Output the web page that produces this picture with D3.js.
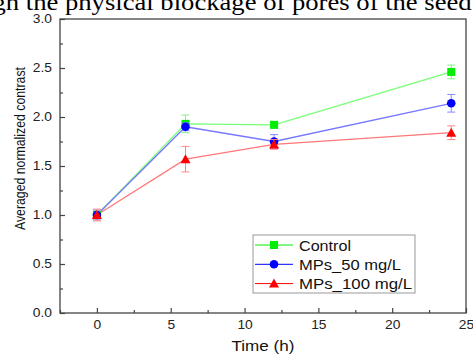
<!DOCTYPE html>
<html><head><meta charset="utf-8">
<script src="https://cdn.jsdelivr.net/npm/d3@7"></script>
<style>body{margin:0;background:#fff;}svg{display:block;}</style>
</head><body>
<svg id="c" width="473" height="354"></svg>
<script>
const times = [0, 6, 12, 24];
const seriesNames = ["Control", "MPs_50 mg/L", "MPs_100 mg/L"];
const controlVals = [1.00, 1.93, 1.92, 2.46];
const controlErr = [0.04, 0.09, 0.03, 0.07];
const mp50Vals = [1.00, 1.90, 1.75, 2.14];
const mp50Err = [0.05, 0.04, 0.07, 0.09];
const mp100Vals = [1.00, 1.57, 1.72, 1.84];
const mp100Err = [0.06, 0.13, 0.05, 0.07];
const xTicks = [0, 5, 10, 15, 20, 25];
const yTicks = [0.0, 0.5, 1.0, 1.5, 2.0, 2.5, 3.0];

const svg = d3.select("#c");
const L = 60, R = 466, T = 19, B = 313;
const x = d3.scaleLinear().domain([-2.5, 25]).range([L, R]);
const y = d3.scaleLinear().domain([0, 3]).range([B, T]);
const font = "Liberation Sans, Arial, sans-serif";

// top clipped paper text (horizontally stretched like the reference)
const pre = "gh the ", full = "gh the physical blockage of pores of the seed";
const ptxt = svg.append("text").attr("x", 0).attr("y", 0)
  .attr("font-family", "Liberation Serif, Times New Roman, serif").attr("font-size", 23)
  .attr("fill", "#000").text(full);
const fullLen = ptxt.node().getComputedTextLength();
const preLen = ptxt.node().getSubStringLength(0, pre.length);
const sx = 407 / (fullLen - preLen);
const x0 = 65 - preLen * sx;
ptxt.attr("transform", `translate(${x0},10) scale(${sx},1)`);

const series = [
  {name: seriesNames[0], v: controlVals, e: controlErr, c: "#00ee00", lc: "#77ff77", ec: "#88ee88", m: "square"},
  {name: seriesNames[1], v: mp50Vals, e: mp50Err, c: "#0000ff", lc: "#7777ff", ec: "#8888ff", m: "circle"},
  {name: seriesNames[2], v: mp100Vals, e: mp100Err, c: "#ff0000", lc: "#ff7777", ec: "#ff8888", m: "triangle"}
];

function marker(g, type, cx, cy, color) {
  if (type === "square") g.append("rect").attr("x", cx-4).attr("y", cy-4).attr("width", 8).attr("height", 8).attr("fill", color);
  else if (type === "circle") g.append("circle").attr("cx", cx).attr("cy", cy).attr("r", 4.3).attr("fill", color);
  else g.append("path").attr("d", `M${cx},${cy-5}L${cx+5},${cy+4}L${cx-5},${cy+4}Z`).attr("fill", color);
}

const plot = svg.append("g");
const line = d3.line().x((d,i) => x(times[i])).y(d => y(d));
series.forEach(s => {
  plot.append("path").attr("d", line(s.v)).attr("fill", "none").attr("stroke", s.lc).attr("stroke-width", 1.3);
});
series.forEach(s => {
  const g = plot.append("g");
  s.v.forEach((v, i) => {
    const cx = x(times[i]), y1 = y(v + s.e[i]), y2 = y(v - s.e[i]);
    g.append("line").attr("x1", cx).attr("x2", cx).attr("y1", y1).attr("y2", y2).attr("stroke", s.ec).attr("stroke-width", 1);
    [y1, y2].forEach(yy => g.append("line").attr("x1", cx-4).attr("x2", cx+4).attr("y1", yy).attr("y2", yy).attr("stroke", s.ec).attr("stroke-width", 1));
  });
  s.v.forEach((v, i) => marker(g, s.m, x(times[i]), y(v), s.c));
});

// frame
svg.append("rect").attr("x", L).attr("y", T).attr("width", R-L).attr("height", B-T)
  .attr("fill", "none").attr("stroke", "#444").attr("stroke-width", 1.3);

// axes
const xa = svg.append("g").attr("transform", `translate(0,${B})`)
  .call(d3.axisBottom(x).tickValues(xTicks).tickSize(-5).tickPadding(7).tickFormat(d3.format("d")));
const xminor = svg.append("g").attr("transform", `translate(0,${B})`)
  .call(d3.axisBottom(x).tickValues([-2.5, 2.5, 7.5, 12.5, 17.5, 22.5]).tickSize(-3).tickFormat(""));
const ya = svg.append("g").attr("transform", `translate(${L},0)`)
  .call(d3.axisLeft(y).tickValues(yTicks).tickSize(-5).tickPadding(7).tickFormat(d3.format(".1f")));
const yminor = svg.append("g").attr("transform", `translate(${L},0)`)
  .call(d3.axisLeft(y).tickValues([0.25, 0.75, 1.25, 1.75, 2.25, 2.75]).tickSize(-3).tickFormat(""));
[xa, xminor, ya, yminor].forEach(a => {
  a.select(".domain").remove();
  a.selectAll("line").attr("stroke", "#444").attr("stroke-width", 1.2);
  a.selectAll("text").attr("font-family", font).attr("font-size", 12).attr("fill", "#222")
    .attr("transform", "scale(1.15,1)");
});

svg.append("text").attr("x", 263).attr("y", 351).attr("text-anchor", "middle")
  .attr("font-family", font).attr("font-size", 14).attr("fill", "#111")
  .attr("textLength", 63).attr("lengthAdjust", "spacingAndGlyphs").text("Time (h)");
svg.append("text").attr("transform", "translate(24.5,148.5) rotate(-90)").attr("text-anchor", "middle")
  .attr("font-family", font).attr("font-size", 13.8).attr("fill", "#111")
  .attr("textLength", 163).attr("lengthAdjust", "spacingAndGlyphs").text("Averaged normalized contrast");

// legend
const legendWidths = [52, 102, 113];
const lg = svg.append("g");
lg.append("rect").attr("x", 253).attr("y", 235).attr("width", 162).attr("height", 58)
  .attr("fill", "#fff").attr("stroke", "#999").attr("stroke-width", 1);
series.forEach((s, i) => {
  const yy = 245 + i * 19.3;
  lg.append("line").attr("x1", 255).attr("x2", 293).attr("y1", yy).attr("y2", yy).attr("stroke", s.c).attr("stroke-width", 1);
  marker(lg, s.m, 274, yy, s.c);
  lg.append("text").attr("x", 299).attr("y", yy + 5.5).attr("font-family", font).attr("font-size", 14)
    .attr("fill", "#111").attr("textLength", legendWidths[i]).attr("lengthAdjust", "spacingAndGlyphs").text(s.name);
});
</script>
</body></html>
